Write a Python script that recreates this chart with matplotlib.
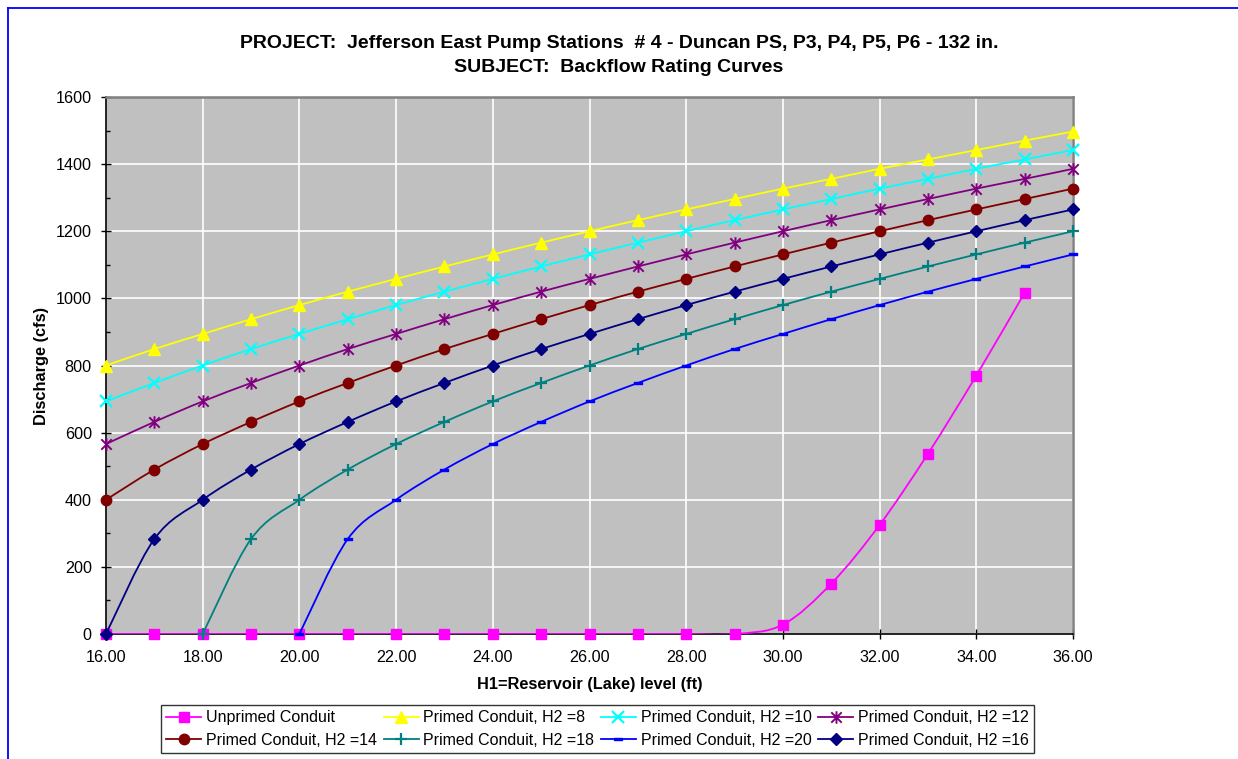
#!/usr/bin/env python3

import matplotlib
matplotlib.use('Agg')
import matplotlib.pyplot as plt
from matplotlib.path import Path
from matplotlib.patches import PathPatch
from matplotlib.lines import Line2D
from matplotlib.ticker import MultipleLocator, FormatStrFormatter

plt.rcParams['font.family'] = ['Liberation Sans', 'DejaVu Sans']

# H1 = reservoir level (ft)
h1_full = [16, 17, 18, 19, 20, 21, 22, 23, 24, 25, 26,
           27, 28, 29, 30, 31, 32, 33, 34, 35, 36]
h1_unprimed = [16, 17, 18, 19, 20, 21, 22, 23, 24, 25,
               26, 27, 28, 29, 30, 31, 32, 33, 34, 35]
h1_from18 = [18, 19, 20, 21, 22, 23, 24, 25, 26, 27,
             28, 29, 30, 31, 32, 33, 34, 35, 36]
h1_from20 = [20, 21, 22, 23, 24, 25, 26, 27, 28,
             29, 30, 31, 32, 33, 34, 35, 36]

# discharge (cfs)
q_unprimed = [0, 0, 0, 0, 0, 0, 0, 0, 0, 0,
              0, 0, 0, 0, 28, 150, 325, 537, 770, 1017]
q_h2_8 = [800, 849, 894, 938, 980, 1020, 1058, 1095, 1131, 1166, 1200,
          1233, 1265, 1296, 1327, 1356, 1386, 1414, 1442, 1470, 1497]
q_h2_10 = [693, 748, 800, 849, 894, 938, 980, 1020, 1058, 1095, 1131,
           1166, 1200, 1233, 1265, 1296, 1327, 1356, 1386, 1414, 1442]
q_h2_12 = [566, 632, 693, 748, 800, 849, 894, 938, 980, 1020, 1058,
           1095, 1131, 1166, 1200, 1233, 1265, 1296, 1327, 1356, 1386]
q_h2_14 = [400, 490, 566, 632, 693, 748, 800, 849, 894, 938, 980,
           1020, 1058, 1095, 1131, 1166, 1200, 1233, 1265, 1296, 1327]
q_h2_18 = [0, 283, 400, 490, 566, 632, 693, 748, 800, 849,
           894, 938, 980, 1020, 1058, 1095, 1131, 1166, 1200]
q_h2_20 = [0, 283, 400, 490, 566, 632, 693, 748, 800,
           849, 894, 938, 980, 1020, 1058, 1095, 1131]
q_h2_16 = [0, 283, 400, 490, 566, 632, 693, 748, 800, 849, 894,
           938, 980, 1020, 1058, 1095, 1131, 1166, 1200, 1233, 1265]

labels = ['Unprimed Conduit', 'Primed Conduit, H2 =8', 'Primed Conduit, H2 =10',
          'Primed Conduit, H2 =12', 'Primed Conduit, H2 =14', 'Primed Conduit, H2 =18',
          'Primed Conduit, H2 =20', 'Primed Conduit, H2 =16']

# excel-ish marker shapes
star = Path([(-1, -1), (1, 1), (-1, 1), (1, -1), (0, -1.2), (0, 1.2)],
            [Path.MOVETO, Path.LINETO, Path.MOVETO, Path.LINETO, Path.MOVETO, Path.LINETO])
dash = Path([(-1, -0.3), (1, -0.3), (1, 0.3), (-1, 0.3), (-1, -0.3)],
            [Path.MOVETO, Path.LINETO, Path.LINETO, Path.LINETO, Path.CLOSEPOLY])

series = [
    (h1_unprimed, q_unprimed, '#FF00FF', 's', 7.5, 1),
    (h1_full, q_h2_8, '#FFFF00', '^', 8.5, 1),
    (h1_full, q_h2_10, '#00FFFF', 'x', 8, 1.6),
    (h1_full, q_h2_12, '#800080', star, 9, 1.4),
    (h1_full, q_h2_14, '#800000', 'o', 7.5, 1),
    (h1_from18, q_h2_18, '#008080', '+', 9, 1.6),
    (h1_from20, q_h2_20, '#0000FF', dash, 6, 1),
    (h1_full, q_h2_16, '#000080', 'D', 6, 1),
]


def smooth_path(xs, ys):
    # excel style smoothed line: bezier through the points
    verts = [(xs[0], ys[0])]
    codes = [Path.MOVETO]
    n = len(xs)
    for i in range(n - 1):
        x0, y0 = (xs[i - 1], ys[i - 1]) if i > 0 else (xs[i], ys[i])
        x1, y1 = xs[i], ys[i]
        x2, y2 = xs[i + 1], ys[i + 1]
        x3, y3 = (xs[i + 2], ys[i + 2]) if i + 2 < n else (x2, y2)
        verts += [(x1 + (x2 - x0) / 6.0, y1 + (y2 - y0) / 6.0),
                  (x2 - (x3 - x1) / 6.0, y2 - (y3 - y1) / 6.0),
                  (x2, y2)]
        codes += [Path.CURVE4] * 3
    return Path(verts, codes)


fig = plt.figure(figsize=(12.38, 7.59), dpi=100)
ax = fig.add_axes([106 / 1238, 1 - 634 / 759, (1073 - 106) / 1238, (634 - 97) / 759])
ax.set_facecolor('#C0C0C0')

handles = []
for k, (xs, ys, color, marker, ms, mew) in enumerate(series):
    z = 3 + k
    ax.add_patch(PathPatch(smooth_path(xs, ys), fill=False, edgecolor=color,
                           lw=1.3, zorder=z, clip_on=True))
    ax.plot(xs, ys, linestyle='none', marker=marker, color=color, ms=ms,
            mew=mew, zorder=z + 0.5, clip_on=False)
    handles.append(Line2D([], [], color=color, lw=1.3, marker=marker, ms=ms, mew=mew))

ax.set_xlim(16, 36)
ax.set_ylim(0, 1600)
ax.xaxis.set_major_locator(MultipleLocator(2))
ax.xaxis.set_major_formatter(FormatStrFormatter('%.2f'))
ax.yaxis.set_major_locator(MultipleLocator(200))
ax.yaxis.set_minor_locator(MultipleLocator(100))
ax.grid(which='major', color='white', lw=1.2)
ax.set_axisbelow(True)

ax.tick_params(axis='both', which='major', direction='inout', length=6.5, width=1,
               labelsize=11.6, colors='black')
ax.tick_params(axis='y', which='major', pad=7)
ax.tick_params(axis='x', which='major', pad=8)
ax.tick_params(axis='y', which='minor', direction='in', length=3, width=1)

for s in ['top', 'right']:
    ax.spines[s].set_color('#808080')
    ax.spines[s].set_linewidth(1.8)
for s in ['left', 'bottom']:
    ax.spines[s].set_color('black')
    ax.spines[s].set_linewidth(1.2)

ax.set_xlabel('H1=Reservoir (Lake) level (ft)', fontsize=11.8, fontweight='bold', labelpad=9)
ax.set_ylabel('Discharge (cfs)', fontsize=11.8, fontweight='bold', labelpad=5)

fig.text(0.5, 1 - 43 / 759, 'PROJECT:  Jefferson East Pump Stations  # 4 - Duncan PS, P3, P4, P5, P6 - 132 in.',
         ha='center', va='center', fontsize=14, fontweight='bold')
fig.text(0.5, 1 - 68 / 759, 'SUBJECT:  Backflow Rating Curves',
         ha='center', va='center', fontsize=14, fontweight='bold')

# legend is two rows of four, matplotlib fills columns first
order = [0, 4, 1, 5, 2, 6, 3, 7]
leg = fig.legend([handles[i] for i in order], [labels[i] for i in order],
                 loc='center', bbox_to_anchor=(597.5 / 1238, 1 - 729 / 759),
                 ncol=4, fontsize=11.5, frameon=True, fancybox=False,
                 edgecolor='black', handlelength=2.2, handletextpad=0.3,
                 columnspacing=0.4, borderpad=0.35, labelspacing=0.45)
leg.get_frame().set_linewidth(1)

# blue window frame
fig.add_artist(Line2D([8 / 1238, 1], [1 - 8 / 759] * 2, transform=fig.transFigure,
                      color='#0000FF', lw=1.3))
fig.add_artist(Line2D([8 / 1238] * 2, [0, 1 - 8 / 759], transform=fig.transFigure,
                      color='#0000FF', lw=1.3))

plt.savefig('out.png', dpi=100)
